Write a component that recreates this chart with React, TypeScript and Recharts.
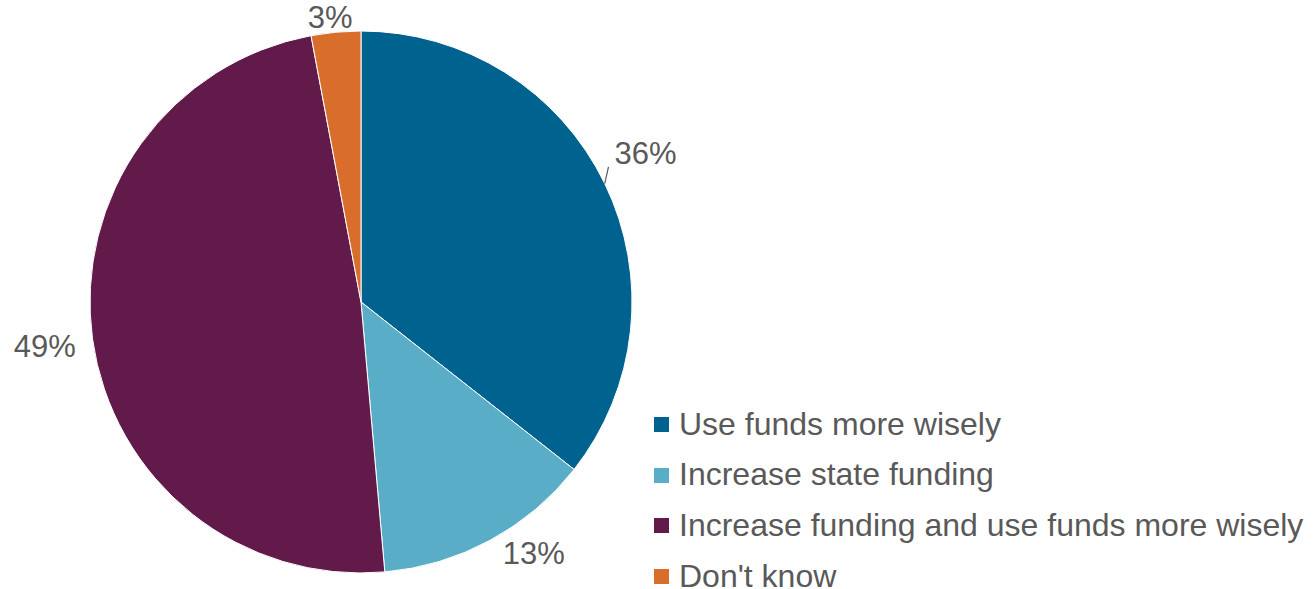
import { Legend, Pie, PieChart, Cell } from "recharts";

const categories = [
  "Use funds more wisely",
  "Increase state funding",
  "Increase funding and use funds more wisely",
  "Don't know",
];
const shares = [35.6, 13.0, 48.45, 2.95];
const percentLabels = ["36%", "13%", "49%", "3%"];
const colors = ["#00628F", "#5AADC6", "#621A4B", "#D96D2C"];

const data = categories.map((name, i) => ({ name, value: shares[i], label: percentLabels[i] }));

const FONT = "'Liberation Sans', Arial, sans-serif";
const TEXT = "#595959";
const FS = 31;
const LEGEND_FS = 32;
const RAD = Math.PI / 180;
// small manual shifts, like the hand-moved labels in the source
const labelNudge = [
  [-4, -8],
  [24, -23],
  [1, 1],
  [-3, 15],
];

function renderLabel(props: any) {
  const { cx, cy, midAngle, outerRadius, index } = props;
  const text = percentLabels[index];
  const c = Math.cos(-midAngle * RAD);
  const s = Math.sin(-midAngle * RAD);
  const halfW = ((text.length - 1) * 0.556 * FS + 0.889 * FS) / 2;
  const h = FS * 0.36;
  const dist = outerRadius + 17 + Math.abs(c) * halfW + Math.abs(s) * h;
  const x = cx + dist * c + labelNudge[index][0];
  const y = cy + dist * s + labelNudge[index][1];
  const ax = cx + outerRadius * c;
  const ay = cy + outerRadius * s;
  return (
    <g key={`lbl-${index}`}>
      {index === 0 && (
        <line x1={ax} y1={ay} x2={x - halfW - 6} y2={y + h + 2} stroke={TEXT} strokeWidth={1.2} />
      )}
      <text
        x={x}
        y={y}
        textAnchor="middle"
        dominantBaseline="central"
        fill={TEXT}
        fontSize={FS}
        fontFamily={FONT}
      >
        {text}
      </text>
    </g>
  );
}

function LegendBox() {
  return (
    <div style={{ fontFamily: FONT, fontSize: LEGEND_FS, color: TEXT }}>
      {categories.map((name, i) => (
        <div key={name} style={{ display: "flex", alignItems: "center", height: 50.7, whiteSpace: "nowrap" }}>
          <span style={{ width: 15, height: 15, background: colors[i], marginRight: 10, flex: "none" }} />
          <span style={{ lineHeight: 0.8 }}>{name}</span>
        </div>
      ))}
    </div>
  );
}

export default function App() {
  return (
    <div style={{ position: "absolute", left: 0, top: 0, width: 1315, height: 589, background: "#fff" }}>
      <PieChart width={1315} height={589} margin={{ top: 0, right: 0, bottom: 0, left: 0 }}>
        <Pie
          data={data}
          dataKey="value"
          nameKey="name"
          cx={361}
          cy={302}
          outerRadius={271}
          startAngle={90}
          endAngle={-270}
          stroke="#ffffff"
          strokeWidth={1}
          label={renderLabel}
          labelLine={false}
          isAnimationActive={false}
        >
          {data.map((d, i) => (
            <Cell key={d.name} fill={colors[i]} />
          ))}
        </Pie>
        <Legend
          content={() => <LegendBox />}
          wrapperStyle={{ position: "absolute", left: 654, top: 399, width: "auto", height: "auto" }}
        />
      </PieChart>
    </div>
  );
}
